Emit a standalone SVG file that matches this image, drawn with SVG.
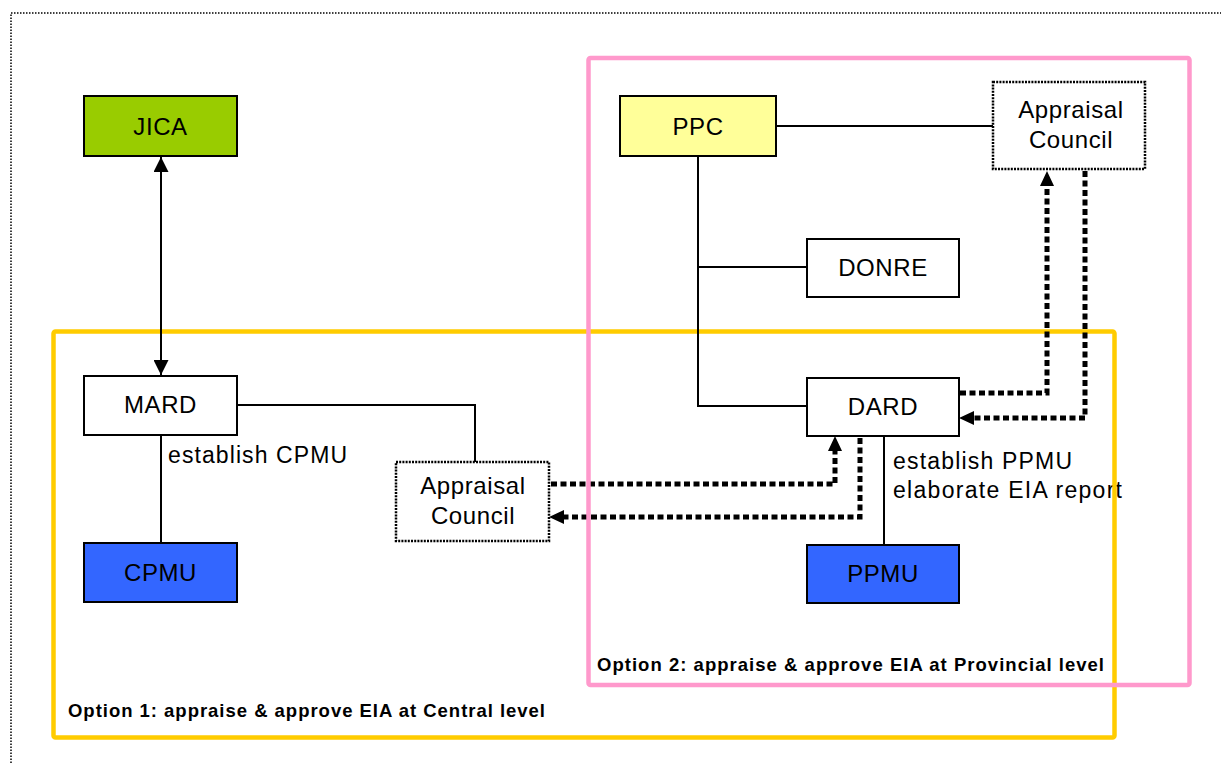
<svg xmlns="http://www.w3.org/2000/svg" width="1221" height="763" viewBox="0 0 1221 763">
  <style>
    .node { stroke: #000; stroke-width: 2; }
    .plain { fill: #fff; }
    .dotbox { fill: #fff; stroke: #000; stroke-width: 2.5; stroke-dasharray: 2 1.2; }
    .lbl { font-family: "Liberation Sans", Arial, sans-serif; font-size: 24px; letter-spacing: 0.6px; fill: #000; }
    .note { font-family: "Liberation Sans", Arial, sans-serif; font-size: 23px; fill: #000; }
    .cap { font-family: "Liberation Sans", Arial, sans-serif; font-size: 18.5px; font-weight: bold; fill: #000; }
    .line { fill: none; stroke: #000; stroke-width: 2; }
    .flow { fill: none; stroke: #000; stroke-width: 5; stroke-dasharray: 6 3.5; }
  </style>
  <defs>
    <marker id="arrThin" viewBox="0 0 10 10" refX="10" refY="5" markerWidth="15" markerHeight="15" markerUnits="userSpaceOnUse" orient="auto-start-reverse">
      <path d="M0,0 L10,5 L0,10 z" fill="#000"/>
    </marker>
  </defs>

  <!-- page frame -->
  <path d="M11,763 L11,13 L1221,13" fill="none" stroke="#000" stroke-width="1.5" stroke-dasharray="1.5 1.5"/>

  <!-- annotations along the reporting lines -->
  <g id="notes">
    <text class="note" x="168" y="463" textLength="179" lengthAdjust="spacing">establish CPMU</text>
    <text class="note" x="893" y="469" textLength="179" lengthAdjust="spacing">establish PPMU</text>
    <text class="note" x="893" y="498" textLength="229" lengthAdjust="spacing">elaborate EIA report</text>
  </g>

  <!-- option 1 frame -->
  <g id="option1-frame">
    <rect x="53.5" y="331.5" width="1061" height="406" fill="none" stroke="#ffcc00" stroke-width="4.5" rx="2"/>
    <text class="cap" x="68" y="717" textLength="477" lengthAdjust="spacing">Option 1: appraise &amp; approve EIA at Central level</text>
  </g>

  <!-- connectors -->
  <g id="connectors">
    <line class="line" x1="161" y1="157" x2="161" y2="375" stroke-width="2.5" marker-start="url(#arrThin)" marker-end="url(#arrThin)"/>
    <path class="line" d="M237,405 H475 V462"/>
    <line class="line" x1="161" y1="435" x2="161" y2="543"/>
    <path class="line" d="M776,126 H993"/>
    <path class="line" d="M698,156 V406 H807"/>
    <path class="line" d="M698,267 H807"/>
    <line class="line" x1="884" y1="436" x2="884" y2="545"/>
    <path class="flow" d="M551,484 H835 V446"/>
    <path d="M835,436 L828,451 L842,451 z" fill="#000"/>
    <path class="flow" d="M860,438 V517 H560"/>
    <path d="M549,517 L564,510 L564,524 z" fill="#000"/>
    <path class="flow" d="M960,393 H1047 V182"/>
    <path d="M1047,171 L1040,186 L1054,186 z" fill="#000"/>
    <path class="flow" d="M1085,171 V418 H970"/>
    <path d="M959,418 L974,411 L974,425 z" fill="#000"/>
  </g>

  <!-- option 2 frame -->
  <g id="option2-frame">
    <rect x="588.5" y="58" width="601" height="627" fill="none" stroke="#ff99cc" stroke-width="4.5" rx="2"/>
    <text class="cap" x="597" y="671" textLength="507" lengthAdjust="spacing">Option 2: appraise &amp; approve EIA at Provincial level</text>
  </g>

  <!-- nodes -->
  <g id="jica">
    <rect class="node" x="84" y="96" width="153" height="60" fill="#99cc00"/>
    <text class="lbl" x="160.5" y="135" text-anchor="middle">JICA</text>
  </g>
  <g id="mard">
    <rect class="node plain" x="84" y="376" width="153" height="59"/>
    <text class="lbl" x="160.5" y="413" text-anchor="middle">MARD</text>
  </g>
  <g id="cpmu">
    <rect class="node" x="84" y="543" width="153" height="59" fill="#3366ff"/>
    <text class="lbl" x="160.5" y="581" text-anchor="middle">CPMU</text>
  </g>
  <g id="appraisal-central">
    <rect class="dotbox" x="396" y="462" width="153" height="79"/>
    <text class="lbl" x="473" y="494" text-anchor="middle">Appraisal</text>
    <text class="lbl" x="473" y="524" text-anchor="middle">Council</text>
  </g>
  <g id="ppc">
    <rect class="node" x="620" y="96" width="156" height="60" fill="#ffff99"/>
    <text class="lbl" x="698" y="135" text-anchor="middle">PPC</text>
  </g>
  <g id="appraisal-provincial">
    <rect class="dotbox" x="993" y="82" width="152" height="87"/>
    <text class="lbl" x="1071" y="118" text-anchor="middle">Appraisal</text>
    <text class="lbl" x="1071" y="148" text-anchor="middle">Council</text>
  </g>
  <g id="donre">
    <rect class="node plain" x="807" y="239" width="152" height="58"/>
    <text class="lbl" x="883" y="276" text-anchor="middle">DONRE</text>
  </g>
  <g id="dard">
    <rect class="node plain" x="807" y="378" width="152" height="58"/>
    <text class="lbl" x="883" y="415" text-anchor="middle">DARD</text>
  </g>
  <g id="ppmu">
    <rect class="node" x="807" y="545" width="152" height="58" fill="#3366ff"/>
    <text class="lbl" x="883" y="582" text-anchor="middle">PPMU</text>
  </g>
</svg>
